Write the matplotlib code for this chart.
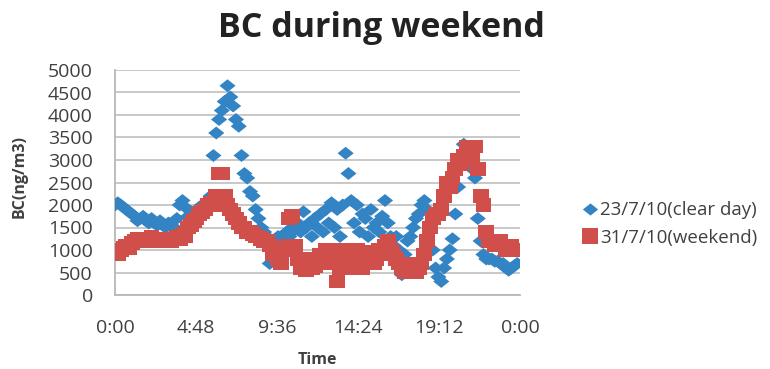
import numpy as np
import matplotlib
matplotlib.use("Agg")
import matplotlib.pyplot as plt
from matplotlib.ticker import FixedLocator
from matplotlib.lines import Line2D

# time in minutes (10-minute steps)
step_min = 10
clear_day = [2000, 2050, 2000, 1950, 1900, 1850, 1800, 1750, 1650, 1700,
             1750, 1650, 1600, 1700, 1600, 1550, 1650, 1550, 1500, 1600,
             1550, 1500, 1700, 2000, 2100, 1950, 1750, 1850, 1700, 1800,
             1950, 2000, 1900, 2050, 2200, 3100, 3600, 3900, 4100, 4300,
             4650, 4400, 4200, 3900, 3750, 3100, 2700, 2600, 2300, 2200,
             1900, 1700, 1500, 1400, 1300, 700, 1000, 1200, 1300, 1100,
             1250, 1400, 1300, 1500, 1450, 1600, 1400, 1850, 1500, 1600,
             1300, 1700, 1500, 1800, 1400, 1900, 1600, 2050, 1500, 1900,
             1300, 2000, 3150, 2700, 2100, 1600, 2000, 1400, 1800, 1700,
             1300, 1900, 1500, 1600, 1400, 1750, 2100, 1600, 1300, 1100,
             1300, 1000, 450, 900, 1200, 1300, 1500, 1700, 1800, 2000,
             2100, 1900, 1600, 1000, 600, 400, 300, 600, 800, 1000,
             1250, 1800, 2400, 3000, 3350, 3300, 3200, 2800, 2600, 1700,
             1200, 900, 800, 800, 800, 750, 750, 700, 700, 600,
             550, 600, 650, 700]
weekend = [950, 900, 1000, 1050, 1100, 1050, 1150, 1200, 1250, 1200,
           1250, 1200, 1250, 1300, 1250, 1200, 1250, 1200, 1200, 1250,
           1200, 1250, 1300, 1250, 1350, 1300, 1500, 1550, 1650, 1700,
           1800, 1850, 1900, 2000, 2050, 2000, 2200, 2700, 2700, 2200,
           2000, 1900, 1800, 1700, 1600, 1500, 1500, 1400, 1400, 1350,
           1300, 1300, 1250, 1200, 1200, 1100, 900, 1000, 800, 700,
           1000, 1100, 1700, 1750, 1100, 800, 600, 700, 550, 800,
           600, 650, 800, 900, 700, 1000, 900, 1000, 700, 300,
           600, 900, 1000, 800, 600, 900, 1000, 800, 600, 900,
           800, 950, 700, 800, 1000, 900, 1100, 1200, 1000, 900,
           800, 700, 600, 500, 600, 700, 600, 500, 600, 700,
           900, 1200, 1500, 1700, 1800, 1800, 1900, 2200, 2500, 2400,
           2600, 2800, 3000, 2900, 3100, 3300, 3300, 3000, 3300, 2800,
           2200, 2000, 1400, 1200, 1200, 1100, 1100, 1200, 1100, 1000,
           1000, 1100, 1000, 1000]
x_ticks_min = [0, 288, 576, 864, 1152, 1440]
x_tick_labels = ["0:00", "4:48", "9:36", "14:24", "19:12", "0:00"]
y_ticks = list(range(0, 5001, 500))
labels = ["23/7/10(clear day)", "31/7/10(weekend)"]

BLUE = '#3384c4'
RED = '#d14f4a'
TXT = '#404040'

plt.rcParams['font.family'] = ['Open Sans', 'DejaVu Sans']

fig = plt.figure(figsize=(7.7, 3.69), dpi=100)
ax = fig.add_axes([115/770, 1-295/369, (520-115)/770, (295-70)/369])

wide_diamond = [(-1, 0), (0, 0.8), (1, 0), (0, -0.8), (-1, 0)]
wide_square = [(-1, -0.88), (1, -0.88), (1, 0.88), (-1, 0.88), (-1, -0.88)]

t_blue = np.arange(len(clear_day)) * step_min
t_red = np.arange(len(weekend)) * step_min

ax.scatter(t_blue, clear_day, marker=wide_diamond, s=135, color=BLUE,
           edgecolors='none', zorder=3)
ax.scatter(t_red, weekend, marker=wide_square, s=130, color=RED,
           edgecolors='none', zorder=4)

ax.set_xlim(0, 1440)
ax.set_ylim(0, 5000)
ax.xaxis.set_major_locator(FixedLocator(x_ticks_min))
ax.set_xticklabels(x_tick_labels)
ax.set_yticks(y_ticks)
ax.grid(axis='y', color='#c4c4c4', linewidth=1.3)
ax.set_axisbelow(True)
for s in ['top', 'right']:
    ax.spines[s].set_visible(False)
for s in ['left', 'bottom']:
    ax.spines[s].set_color('#b8b8b8')
    ax.spines[s].set_linewidth(1.3)
ax.tick_params(axis='both', labelsize=14, labelcolor=TXT, length=0)
ax.tick_params(axis='y', pad=16)
ax.tick_params(axis='x', pad=17)

ax.set_xlabel("Time", fontsize=11.5, fontweight='bold', color=TXT)
ax.xaxis.set_label_coords(0.5, -(352-295)/225)
ax.set_ylabel("BC(ng/m3)", fontsize=11.5, fontweight='bold', color=TXT)
ax.yaxis.set_label_coords(-(115-28)/405, (295-177)/225)
fig.text(381/770, 1-28/369, "BC during weekend", ha='center', va='center',
         fontsize=24.5, fontweight='bold', color='#222222')

handles = [Line2D([], [], linestyle='none', marker=wide_diamond, markersize=11,
                  color=BLUE, markeredgewidth=0),
           Line2D([], [], linestyle='none', marker='s', markersize=11,
                  color=RED, markeredgewidth=0)]
leg = fig.legend(handles, labels, loc='center left',
                 bbox_to_anchor=(572/770, 1-224/369),
                 frameon=False, fontsize=13.5, handletextpad=0.0,
                 handlelength=1.1, labelspacing=0.5, borderaxespad=0)
for txt in leg.get_texts():
    txt.set_color(TXT)

fig.savefig("out.png", dpi=100)
